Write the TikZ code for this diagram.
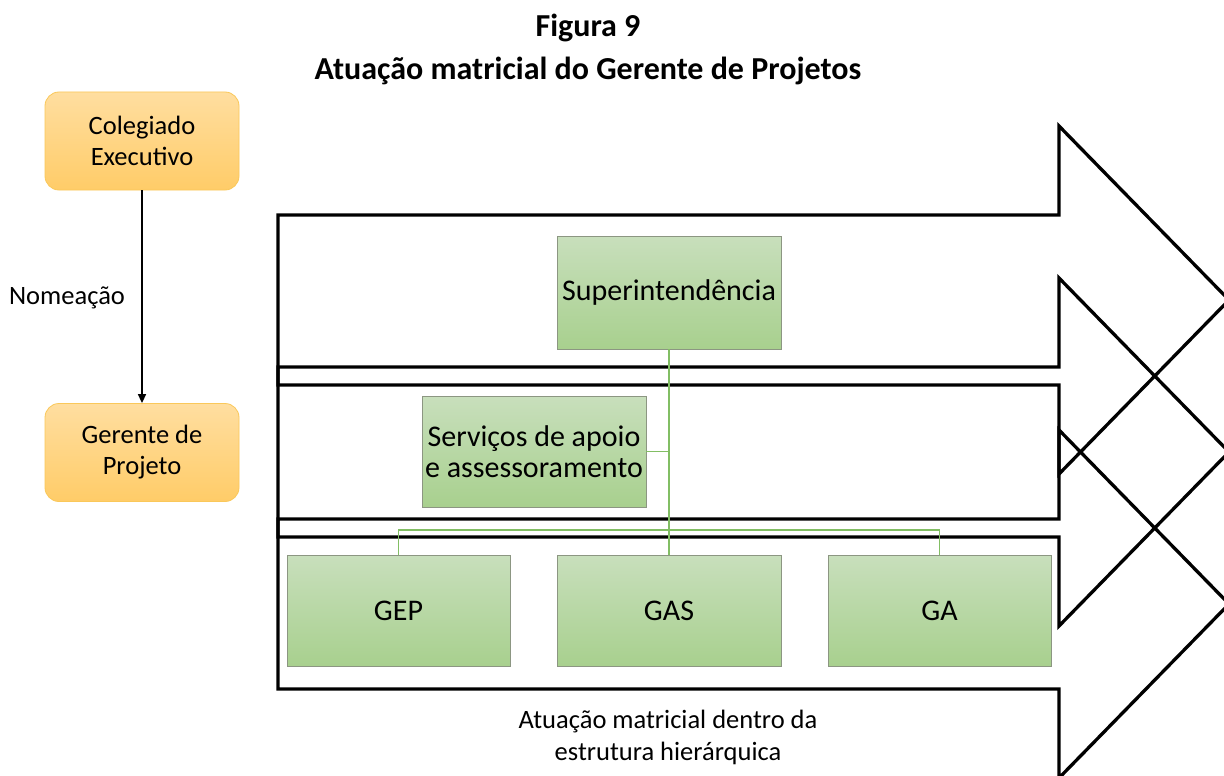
\documentclass[tikz,border=0pt]{standalone}
\usepackage{fontspec}
\setmainfont{Carlito}
\usetikzlibrary{arrows.meta}
\definecolor{orTop}{RGB}{255,222,160}
\definecolor{orBot}{RGB}{255,204,104}
\definecolor{orLine}{RGB}{250,200,90}
\definecolor{grTop}{RGB}{200,223,188}
\definecolor{grBot}{RGB}{168,208,142}
\definecolor{grLine}{RGB}{140,150,130}
\definecolor{conn}{RGB}{130,190,100}
\tikzset{
  orbox/.style={draw=orLine, line width=0.8pt, rounded corners=14pt, top color=orTop, bottom color=orBot,
    minimum width=194pt, minimum height=98pt, align=center, inner sep=0pt,
    font=\fontsize{26.5}{31}\selectfont},
  grbox/.style={draw=grLine, line width=0.8pt, top color=grTop, bottom color=grBot,
    minimum width=224pt, minimum height=112pt, align=center, inner sep=0pt,
    font=\fontsize{30}{31}\selectfont},
  bigarrow/.style={draw=black, line width=3.3pt, line join=miter},
  link/.style={draw=conn, line width=1.4pt},
  nomarrow/.style={draw=black, line width=1.5pt, -{Triangle[length=9pt,width=8pt]}},
  plain/.style={font=\fontsize{26.5}{32}\selectfont, align=center, inner sep=0pt},
  titletext/.style={font=\fontsize{32}{38}\bfseries\selectfont, inner sep=0pt, anchor=base}
}
\begin{document}
\begin{tikzpicture}[x=1pt,y=-1pt]
\useasboundingbox (0,0) rectangle (1224,776);
\clip (0,0) rectangle (1224,776);
\fill[white] (0,0) rectangle (1224,776);

% title
\node[titletext] (t1) at (588,37) {Figura 9};
\node[titletext] (t2) at (588,80) {Atuação matricial do Gerente de Projetos};

% big outlined arrows
\foreach \c in {300,452,604}{
  \draw[bigarrow] (278,{\c-85}) -- (1059,{\c-85}) -- (1059,{\c-174}) -- (1229,\c)
     -- (1059,{\c+174}) -- (1059,{\c+85}) -- (278,{\c+85}) -- cycle;
}

% left side
\node[orbox] (col) at (142,141) {Colegiado\\Executivo};
\node[orbox] (ger) at (142,452.5) {Gerente de\\Projeto};
\draw[nomarrow] (col.south) -- (ger.north);
\node[plain] (nom) at (67,298) {Nomeação};

% org chart
\node[grbox, minimum height=113pt] (sup) at (669,292.5) {Superintendência};
\node[grbox, minimum height=111pt] (srv) at (534,451.5) {Serviços de apoio\\e assessoramento};
\node[grbox, minimum width=223pt, minimum height=111pt] (gep) at (398.5,610.5) {GEP};
\node[grbox, minimum width=224pt, minimum height=111pt] (gas) at (669,610.5) {GAS};
\node[grbox, minimum width=223pt, minimum height=111pt] (ga) at (939.5,610.5) {GA};

\coordinate (bus) at (669,530);
\draw[link] (sup.south) -- (gas.north);
\draw[link] (srv.east) -- (srv.east -| sup.south);
\draw[link] (gep.north) -- (gep.north |- bus) -- (ga.north |- bus) -- (ga.north);

% bottom caption
\node[plain] (cap) at (668,737) {Atuação matricial dentro da\\estrutura hierárquica};
\end{tikzpicture}
\end{document}
